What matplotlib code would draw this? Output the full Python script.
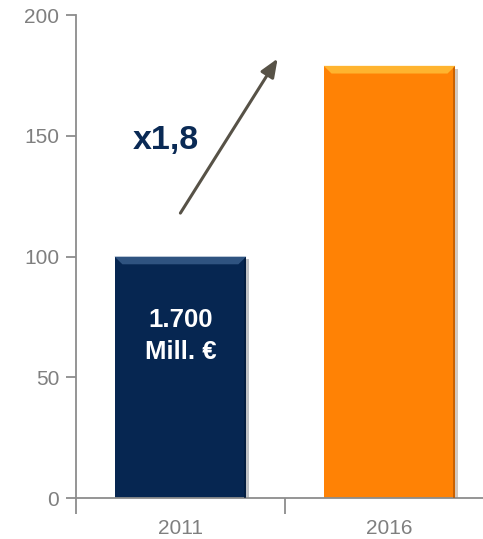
import matplotlib
matplotlib.use("Agg")
import matplotlib.pyplot as plt
import matplotlib.patheffects as pe
from matplotlib.patches import Polygon

years = ["2011", "2016"]
values = [100, 179]
bar_colors = ["#062651", "#FF8205"]
top_colors = ["#3A5F8C", "#FFC13A"]
side_colors = ["#031A3A", "#B35400"]
bar_label = "1.700\nMill. €"
factor_label = "x1,8"

plt.rcParams["font.family"] = ["Liberation Sans", "DejaVu Sans"]

fig = plt.figure(figsize=(4.83, 5.39), dpi=100)
ax = fig.add_axes([0.157, 0.076, 0.843, 0.896])

x = range(len(years))
bars = ax.bar(x, values, width=0.63, color=bar_colors, zorder=2,
              path_effects=[pe.withSimplePatchShadow(offset=(2, -2), alpha=0.25), pe.Normal()])

# bevel look on the bars
for b, tc, sc in zip(bars, top_colors, side_colors):
    x0, w, h = b.get_x(), b.get_width(), b.get_height()
    dx, dy = w * 0.06, 3.2
    ax.add_patch(Polygon([(x0, h), (x0 + w, h), (x0 + w - dx, h - dy), (x0 + dx, h - dy)],
                         closed=True, color=tc, alpha=0.8, zorder=3, lw=0))
    ax.add_patch(Polygon([(x0 + w, h), (x0 + w, 0), (x0 + w - dx * 0.25, 0), (x0 + w - dx * 0.25, h - dy * 0.3)],
                         closed=True, color=sc, alpha=0.7, zorder=3, lw=0))

ax.text(0, 67, bar_label, color="white", fontsize=18.5, fontweight="bold",
        ha="center", va="center", linespacing=1.4, zorder=4)
ax.text(-0.07, 148, factor_label, color="#0A2A55", fontsize=24.5, fontweight="bold",
        ha="center", va="center")
ax.annotate("", xy=(0.465, 182), xytext=(0.0, 118),
            arrowprops=dict(arrowstyle="-|>,head_length=1.1,head_width=0.45",
                            color="#575247", lw=2.2, shrinkA=0, shrinkB=0))

ax.set_yticks([0, 50, 100, 150, 200])
ax.set_xticks([-0.5, 0.5, 1.5])
ax.set_xticklabels([])
ax.set_xticks(list(x), minor=True)
ax.set_xticklabels(years, minor=True)
ax.set_ylim(0, 200)
ax.set_xlim(-0.5, 1.447)

gray = "#8C8C8C"
for s in ["top", "right"]:
    ax.spines[s].set_visible(False)
for s in ["left", "bottom"]:
    ax.spines[s].set_color(gray)
    ax.spines[s].set_linewidth(1.3)
ax.tick_params(axis="y", length=7, width=1.3, color=gray, labelcolor="#7F7F7F",
               labelsize=15, pad=5)
ax.tick_params(axis="x", which="major", length=11.5, width=1.3, color=gray)
ax.tick_params(axis="x", which="minor", length=0, labelcolor="#7F7F7F",
               labelsize=15, pad=15)

fig.savefig("out.png", dpi=100)
